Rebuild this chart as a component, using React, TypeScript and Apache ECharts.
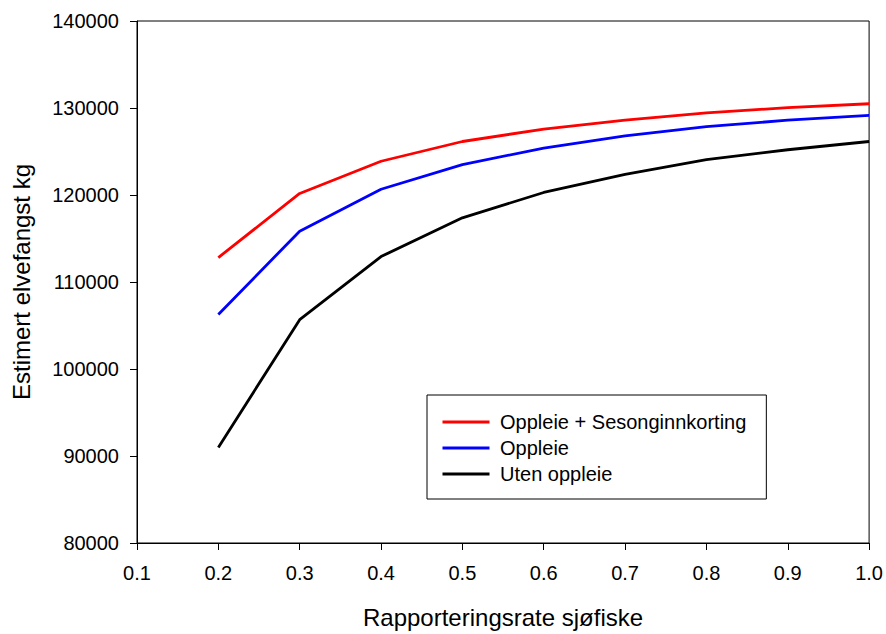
import React, { useEffect, useRef } from "react";
import * as echarts from "echarts";

const xValues = [0.2, 0.3, 0.4, 0.5, 0.6, 0.7, 0.8, 0.9, 1.0];
const seriesNames = ["Oppleie + Sesonginnkorting", "Oppleie", "Uten oppleie"];
const redValues = [112810, 120180, 123880, 126150, 127580, 128600, 129430, 130040, 130490];
const blueValues = [106270, 115840, 120660, 123500, 125390, 126790, 127850, 128600, 129160];
const blackValues = [90980, 105670, 112920, 117380, 120290, 122370, 124060, 125200, 126150];
const seriesColors = ["#ff0000", "#0000ff", "#000000"];
const xTitle = "Rapporteringsrate sjøfiske";
const yTitle = "Estimert elvefangst kg";

const FONT = "'Liberation Sans', Arial, Helvetica, sans-serif";

export default function App() {
  const ref = useRef<HTMLDivElement>(null);
  useEffect(() => {
    if (!ref.current) return;
    const chart = echarts.init(ref.current, null, { renderer: "svg" });
    const allValues = [redValues, blueValues, blackValues];
    chart.setOption({
      animation: false,
      backgroundColor: "#ffffff",
      textStyle: { fontFamily: FONT },
      grid: {
        left: 137,
        right: 16,
        top: 21,
        bottom: 84,
        show: true,
        borderColor: "#000",
        borderWidth: 1,
        containLabel: false,
      },
      legend: {
        show: true,
        orient: "vertical",
        left: 427,
        top: 395,
        padding: [17, 20, 15, 14],
        itemWidth: 47,
        itemHeight: 20,
        itemGap: 6,
        borderColor: "#000",
        borderWidth: 1,
        backgroundColor: "#fff",
        itemStyle: { opacity: 0, borderWidth: 0 },
        lineStyle: { width: 3 },
        textStyle: { fontSize: 20, color: "#000", fontFamily: FONT },
        formatter: (n: string) => " " + n,
        data: seriesNames,
      },
      xAxis: {
        type: "value",
        min: 0.1,
        max: 1.0,
        interval: 0.1,
        name: xTitle,
        nameLocation: "middle",
        nameGap: 62,
        nameTextStyle: { fontSize: 24, color: "#000", fontFamily: FONT },
        axisLine: { show: true, lineStyle: { color: "#000", width: 1 } },
        axisTick: { show: true, inside: false, length: 7, lineStyle: { color: "#000" } },
        axisLabel: {
          fontSize: 20,
          color: "#000",
          margin: 20,
          fontFamily: FONT,
          formatter: (v: number) => v.toFixed(1),
        },
        splitLine: { show: false },
      },
      yAxis: {
        type: "value",
        min: 80000,
        max: 140000,
        interval: 10000,
        name: yTitle,
        nameLocation: "middle",
        nameRotate: 90,
        nameGap: 104,
        nameTextStyle: { fontSize: 24, color: "#000", fontFamily: FONT },
        axisLine: { show: true, lineStyle: { color: "#000", width: 1 } },
        axisTick: { show: true, inside: false, length: 7, lineStyle: { color: "#000" } },
        axisLabel: {
          fontSize: 20,
          color: "#000",
          margin: 18,
          fontFamily: FONT,
          formatter: (v: number) => String(Math.round(v)),
        },
        splitLine: { show: false },
      },
      series: seriesNames.map((n, i) => ({
        name: n,
        type: "line",
        showSymbol: false,
        symbol: "none",
        data: xValues.map((x, j) => [x, allValues[i][j]]),
        lineStyle: { color: seriesColors[i], width: 2.8 },
        itemStyle: { color: seriesColors[i] },
      })),
    });
    return () => chart.dispose();
  }, []);
  return (
    <div
      ref={ref}
      style={{ position: "fixed", left: 0, top: 0, width: 886, height: 634, background: "#fff" }}
    />
  );
}
